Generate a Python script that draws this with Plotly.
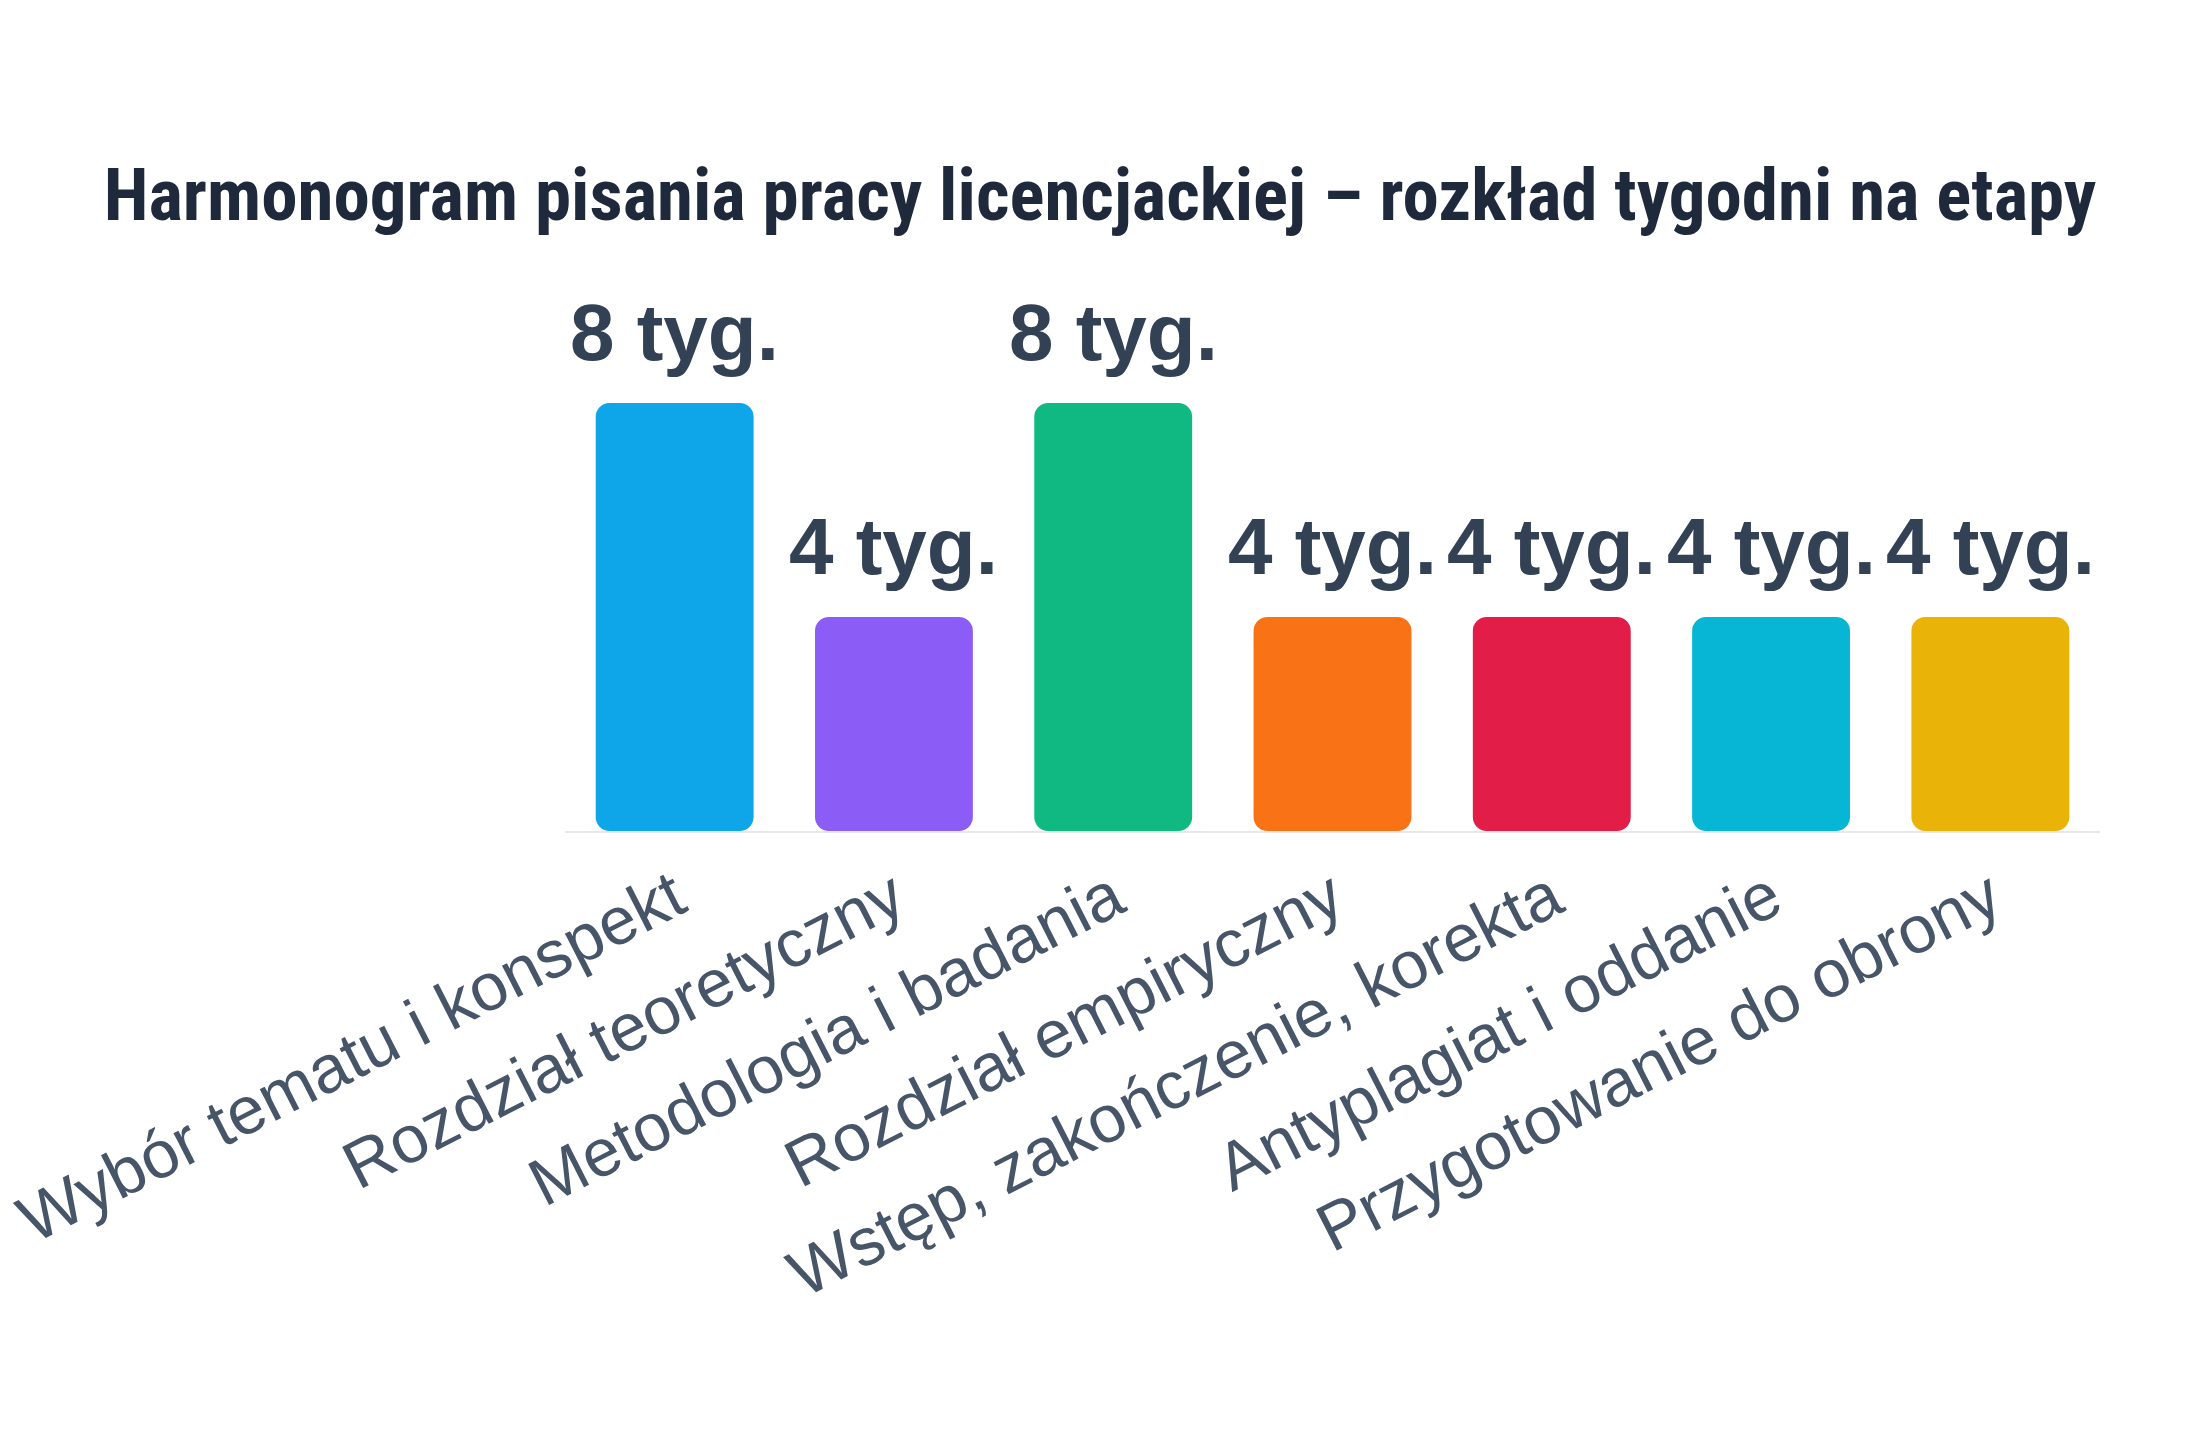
import plotly.graph_objects as go

categories = [
    "Wybór tematu i konspekt",
    "Rozdział teoretyczny",
    "Metodologia i badania",
    "Rozdział empiryczny",
    "Wstęp, zakończenie, korekta",
    "Antyplagiat i oddanie",
    "Przygotowanie do obrony",
]
weeks = [8, 4, 8, 4, 4, 4, 4]
labels = [f"{w} tyg." for w in weeks]
colors = ["#0EA5E9", "#8B5CF6", "#10B981", "#F97316", "#E11D48", "#06B6D4", "#EAB308"]

title_text = "Harmonogram pisania pracy licencjackiej – rozkład tygodni na etapy"

fig = go.Figure()
fig.add_trace(go.Bar(
    x=categories, y=weeks, base=[0] * len(weeks),
    marker=dict(color=colors, line=dict(width=0), cornerradius=14),
    hovertemplate="%{x}: %{y} tyg.<extra></extra>",
    showlegend=False,
))

for c, w, t in zip(categories, weeks, labels):
    fig.add_annotation(
        x=c, y=w, xref="x", yref="y", text=t, showarrow=False,
        yanchor="bottom", xanchor="center", yshift=24,
        font=dict(family="Liberation Sans, Arial, sans-serif", size=80, color="#334155", weight="bold"),
    )

fig.update_layout(
    template="none",
    width=2200, height=1440,
    paper_bgcolor="white", plot_bgcolor="white",
    bargap=0.28,
    margin=dict(l=565, r=100, t=297, b=609, autoexpand=False),
    title=dict(
        text=title_text, x=0.5, xanchor="center", xref="container",
        y=1 - 194 / 1440, yanchor="middle", yref="container",
        font=dict(family="Roboto Condensed, Roboto, sans-serif",
                  size=73, color="#1E293B", weight="bold"),
    ),
    xaxis=dict(
        automargin=False, tickangle=-27, showgrid=False, zeroline=False,
        showline=True, linecolor="#E5E7EB", linewidth=2, layer="below traces",
        ticks="", tickfont=dict(family="Liberation Sans, Arial, sans-serif", size=67, color="#475569"),
    ),
    yaxis=dict(
        automargin=False, range=[0, 534 / 53.5], showgrid=False, zeroline=False,
        showticklabels=False, showline=False, ticks="",
    ),
)

fig.write_html("out.html")
